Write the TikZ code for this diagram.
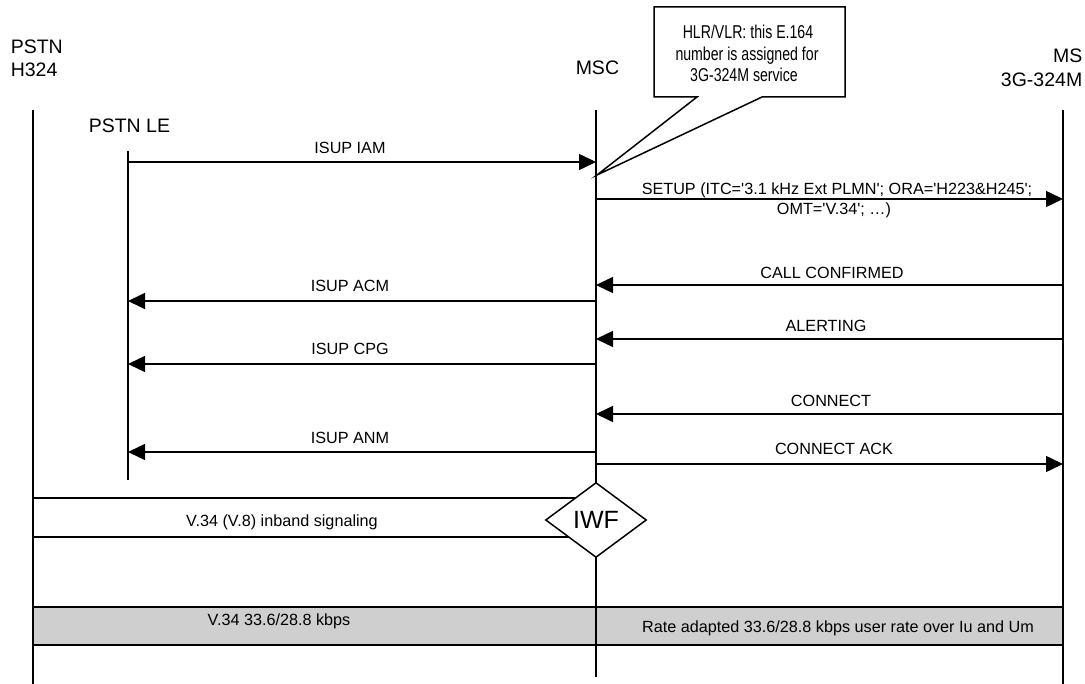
\documentclass[tikz,border=0pt]{standalone}
\usepackage{fontspec}
\usepackage{graphicx}
\setmainfont{Liberation Sans}[Ligatures=TeXOff]
\usetikzlibrary{arrows.meta,shapes.geometric}
\begin{document}
\begin{tikzpicture}[x=1pt,y=-1pt,line width=1.5pt,
  msg/.style={-{Triangle[length=17pt,width=16pt]}},
  lbl/.style={inner sep=0pt,text height=11.6pt,text depth=0pt,font=\fontsize{16.2}{19}\selectfont},
  hdr/.style={inner sep=0pt,text height=13.96pt,text depth=0pt,font=\fontsize{19.5}{23}\selectfont},
  note/.style={inner sep=0pt,text height=13.3pt,text depth=0pt,font=\fontsize{18.6}{22}\selectfont},
  band/.style={draw,fill=black!19}]
\useasboundingbox (0,0) rectangle (1085,684);
% lifeline anchors
\coordinate (htop) at (33,110);   \coordinate (hbot) at (33,684);
\coordinate (letop) at (128,151); \coordinate (lebot) at (128,480);
\coordinate (mtop) at (596,110);  \coordinate (mbot) at (596,677);
\coordinate (stop) at (1063,110); \coordinate (sbot) at (1063,684);
\coordinate (iwfc) at (596,520);
% bottom band
\draw[band] (33,607) rectangle (1063,645);
% lifelines
\draw (htop) -- (hbot);
\draw (letop) -- (lebot);
\draw (mtop) -- (mbot);
\draw (stop) -- (sbot);
% headers
\node[hdr,anchor=west] (h1) at (10,47) {PSTN};
\node[hdr,anchor=west] (h2) at (10,70) {H324};
\node[hdr,anchor=west] (le) at (88,126) {PSTN LE};
\node[hdr,anchor=west] (msc) at (575,68) {MSC};
\node[hdr,anchor=east] (ms1) at (1083,56) {MS};
\node[hdr,anchor=east] (ms2) at (1083,80) {3G-324M};
% callout
\coordinate (tip) at (597,175);
\draw[fill=white] (654,7) -- (845,7) -- (845,97) -- (762,97) -- (tip) -- (697,97) -- (654,97) -- cycle;
\node[note] (n1) at (748,32) {\scalebox{0.76}[1]{HLR/VLR: this E.164}};
\node[note] (n2) at (747,54) {\scalebox{0.76}[1]{number is assigned for}};
\node[note] (n3) at (744,75) {\scalebox{0.76}[1]{3G-324M service}};
% messages
\coordinate (y1) at (0,162);
\draw[msg] (letop |- y1) -- (mtop |- y1);
\node[lbl] (l1) at (350,148) {ISUP IAM};
\coordinate (y2) at (0,199);
\draw[msg] (mtop |- y2) -- (stop |- y2);
\node[lbl] (l2a) at (837,189) {SETUP (ITC='3.1 kHz Ext PLMN'; ORA='H223\&H245';};
\node[lbl] (l2b) at (834,209) {OMT='V.34'; …)};
\coordinate (y3) at (0,285);
\draw[msg] (stop |- y3) -- (mtop |- y3);
\node[lbl] (l3) at (832,273) {CALL CONFIRMED};
\coordinate (y4) at (0,301);
\draw[msg] (mtop |- y4) -- (letop |- y4);
\node[lbl] (l4) at (350,286) {ISUP ACM};
\coordinate (y5) at (0,339);
\draw[msg] (stop |- y5) -- (mtop |- y5);
\node[lbl] (l5) at (826,326) {ALERTING};
\coordinate (y6) at (0,364);
\draw[msg] (mtop |- y6) -- (letop |- y6);
\node[lbl] (l6) at (350,349) {ISUP CPG};
\coordinate (y7) at (0,414);
\draw[msg] (stop |- y7) -- (mtop |- y7);
\node[lbl] (l7) at (831,401) {CONNECT};
\coordinate (y8) at (0,452);
\draw[msg] (mtop |- y8) -- (letop |- y8);
\node[lbl] (l8) at (350,438) {ISUP ANM};
\coordinate (y9) at (0,464);
\draw[msg] (mtop |- y9) -- (stop |- y9);
\node[lbl] (l9) at (834,449) {CONNECT ACK};
% IWF
\draw (htop |- 0,498) -- (iwfc |- 0,498);
\draw (htop |- 0,537) -- (iwfc |- 0,537);
\node[draw,fill=white,diamond,inner sep=0pt,minimum width=101pt,minimum height=75pt,
  text height=17.9pt,text depth=0pt,font=\fontsize{25}{30}\selectfont] (iwf) at (iwfc) {IWF};
\node[lbl] (sig) at (282,521) {V.34 (V.8) inband signaling};
\node[lbl] (b1) at (279,620) {V.34 33.6/28.8 kbps};
\node[lbl] (b2) at (838,627) {Rate adapted 33.6/28.8 kbps user rate over Iu and Um};
\end{tikzpicture}
\end{document}
